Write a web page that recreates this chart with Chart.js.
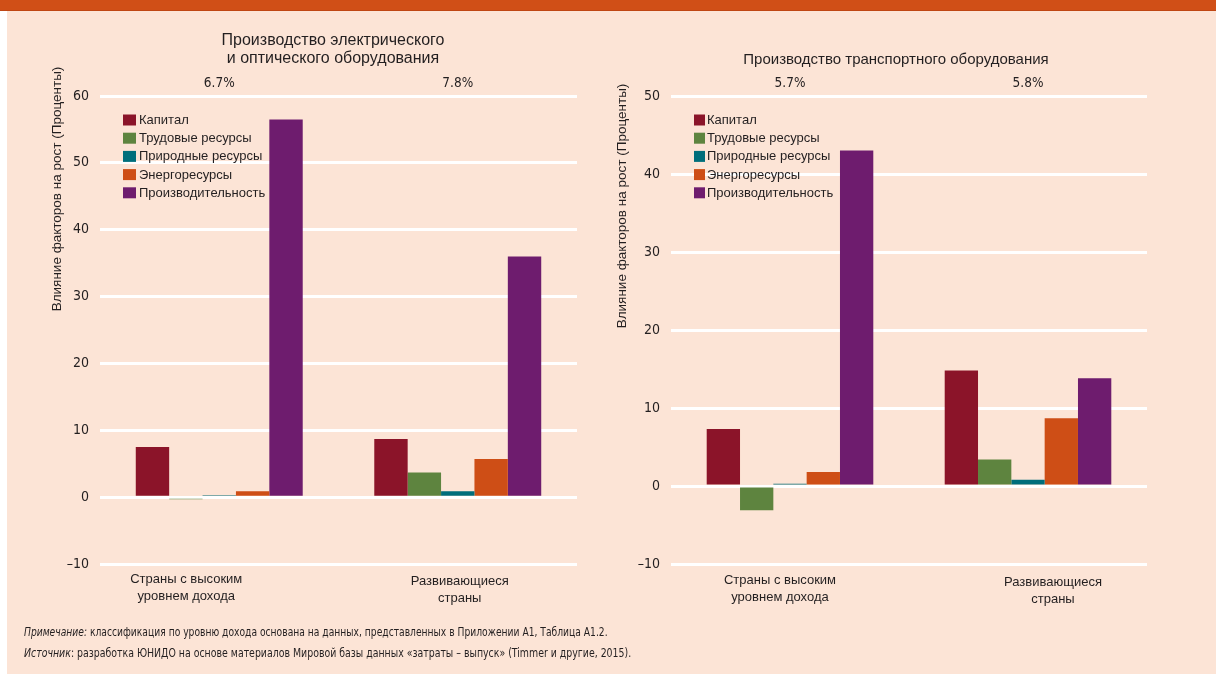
<!DOCTYPE html>
<html><head><meta charset="utf-8">
<script src="https://cdn.jsdelivr.net/npm/chart.js@4.4.0/dist/chart.umd.min.js"></script>
<style>
html,body{margin:0;padding:0;background:#fff;}
body{width:1216px;height:684px;position:relative;overflow:hidden;font-family:"Liberation Sans",Arial,sans-serif;}
#banner{position:absolute;left:0;top:0;width:1216px;height:10px;background:#D04F17;border-bottom:1px solid #BF4613;}
#panel{position:absolute;left:7px;top:11px;width:1209px;height:663px;background:#FCE4D6;}
#c1{position:absolute;left:0;top:0;}
#c2{position:absolute;left:570px;top:0;}
.note{position:absolute;left:24px;font-family:"DejaVu Sans Condensed","Liberation Sans",sans-serif;font-size:12px;color:#231F20;line-height:14px;white-space:nowrap;transform-origin:0 0;}
#n1{top:625px;transform:scaleX(0.85);}
#n2{top:646px;transform:scaleX(0.87);}
</style>
</head><body>
<div id="banner"></div>
<div id="panel"></div>
<canvas id="c1" width="600" height="684"></canvas>
<canvas id="c2" width="600" height="684"></canvas>
<div class="note" id="n1"><i>Примечание:</i> классификация по уровню дохода основана на данных, представленных в Приложении A1, Таблица A1.2.</div>
<div class="note" id="n2"><i>Источник</i>: разработка ЮНИДО на основе материалов Мировой базы данных «затраты – выпуск» (Timmer и другие, 2015).</div>
<script>
// ---- Data ----
const categories = [["Страны с высоким", "уровнем дохода"], ["Развивающиеся", "страны"]];
const seriesNames = ["Капитал", "Трудовые ресурсы", "Природные ресурсы", "Энергоресурсы", "Производительность"];
const seriesColors = ["#8B1429", "#5E843F", "#006E7B", "#CE4E16", "#6E1C6E"];

const elecTitle = ["Производство электрического", "и оптического оборудования"];
const elecGrowth = ["6.7%", "7.8%"];
const elecCapital = [7.5, 8.7];
const elecLabour = [-0.3, 3.7];
const elecNatural = [0.3, 0.9];
const elecEnergy = [0.9, 5.7];
const elecProductivity = [56.5, 36.0];
const elecRange = [-10, 60];

const transTitle = ["Производство транспортного оборудования"];
const transGrowth = ["5.7%", "5.8%"];
const transCapital = [7.3, 14.8];
const transLabour = [-3.1, 3.4];
const transNatural = [0.3, 0.8];
const transEnergy = [1.8, 8.7];
const transProductivity = [43.0, 13.8];
const transRange = [-10, 50];

const yAxisTitle = "Влияние факторов на рост (Проценты)";

// ---- Drawing ----
const TEXT = "#231F20";
const SANS = '"Liberation Sans", Arial, sans-serif';
const NARROW = '"DejaVu Sans Condensed", "Liberation Sans", sans-serif';

const decoPlugin = {
  id: 'deco',
  afterDraw(chart, args, o) {
    const ctx = chart.ctx, xs = chart.scales.x, ca = chart.chartArea;
    ctx.save();
    ctx.fillStyle = TEXT;
    ctx.textAlign = 'center';
    ctx.textBaseline = 'middle';
    ctx.font = o.titleSize + 'px ' + SANS;
    o.title.forEach((t, i) => ctx.fillText(t, o.titleX, o.titleY + i * 18));
    ctx.font = '13.5px ' + NARROW;
    o.growth.forEach((g, i) => ctx.fillText(g, xs.getPixelForValue(i), o.growthY));
    // category labels
    ctx.font = '13px ' + SANS;
    chart.data.labels.forEach((lab, i) => {
      const x = xs.getPixelForValue(i) + o.xLabelDx[i];
      lab.forEach((line, j) => ctx.fillText(line, x, o.xLabelY[i] + j * 17));
    });
    // y axis title
    ctx.save();
    ctx.translate(o.yTitleX, o.yTitleY);
    ctx.rotate(-Math.PI / 2);
    ctx.font = '13.5px ' + SANS;
    ctx.fillText(yAxisTitle, 0, 0);
    ctx.restore();
    // legend
    ctx.textAlign = 'left';
    ctx.font = '13px ' + SANS;
    chart.data.datasets.forEach((ds, i) => {
      const y = ca.top + o.legendTop + i * 18.2;
      ctx.fillStyle = ds.backgroundColor;
      ctx.fillRect(ca.left + o.legendLeft, y - 5.5, o.boxW, 11);
      ctx.fillStyle = TEXT;
      ctx.fillText(ds.label, ca.left + o.legendText, y + 0.5);
    });
    ctx.restore();
  }
};

function makeChart(id, data, range, deco, yWidth) {
  const datasets = data.map((d, i) => ({
    label: seriesNames[i], data: d, backgroundColor: seriesColors[i],
    borderWidth: 0, categoryPercentage: 0.7, barPercentage: 1.0
  }));
  return new Chart(document.getElementById(id), {
    type: 'bar',
    data: { labels: categories, datasets },
    options: {
      responsive: false, animation: false, devicePixelRatio: 1,
      layout: { padding: { top: 96, bottom: 60, right: 23, left: 40 } },
      plugins: { legend: { display: false }, tooltip: { enabled: false }, deco },
      scales: {
        x: {
          grid: { display: false }, border: { display: false },
          ticks: { display: false },
          afterFit: s => { s.height = 60; }
        },
        y: {
          min: range[0], max: range[1],
          grid: { color: '#FFFFFF', lineWidth: 3, drawTicks: false },
          border: { display: false },
          ticks: {
            stepSize: 10, color: TEXT, padding: 11,
            font: { family: NARROW, size: 14 },
            callback: v => v < 0 ? '\u2013' + Math.abs(v) : String(v)
          },
          afterFit: s => { s.width = yWidth; }
        }
      }
    },
    plugins: [decoPlugin]
  });
}

makeChart('c1', [elecCapital, elecLabour, elecNatural, elecEnergy, elecProductivity], elecRange, {
  title: elecTitle, titleSize: 16, titleX: 333, titleY: 41, growth: elecGrowth, growthY: 83,
  xLabelDx: [-33, 2], xLabelY: [579, 581],
  yTitleX: 57, yTitleY: 189, legendTop: 24, legendLeft: 23, legendText: 39, boxW: 13
}, 60);

makeChart('c2', [transCapital, transLabour, transNatural, transEnergy, transProductivity], transRange, {
  title: transTitle, titleSize: 15, titleX: 326, titleY: 60, growth: transGrowth, growthY: 83,
  xLabelDx: [-10, 25], xLabelY: [580, 582],
  yTitleX: 52, yTitleY: 206, legendTop: 24, legendLeft: 23, legendText: 36, boxW: 11
}, 61);
</script>
</body></html>
